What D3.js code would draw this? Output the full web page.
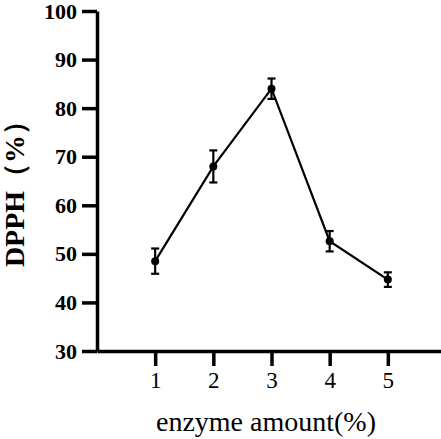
<!DOCTYPE html>
<html>
<head>
<meta charset="utf-8">
<script src="https://cdn.jsdelivr.net/npm/d3@7"></script>
<style>
  body { margin: 0; background: #fff; }
  svg { display: block; }
  text { font-family: "Liberation Serif", "DejaVu Serif", serif; }
</style>
</head>
<body>
<script>
// values
const amounts = [1, 2, 3, 4, 5];
const dpph = [48.5, 68.0, 84.0, 52.6, 44.7];
const errors = [2.6, 3.3, 2.1, 2.1, 1.5];
const yTicks = [30, 40, 50, 60, 70, 80, 90, 100];

const data = amounts.map((a, i) => ({x: a, y: dpph[i], e: errors[i]}));

const serif = "'Liberation Serif', 'DejaVu Serif', serif";
const outerWidth = 441, outerHeight = 439;
const margin = {top: 11, left: 97};
const width = 349, height = 340;

const x = d3.scaleLinear().domain([0, 6]).range([0, width]);
const y = d3.scaleLinear().domain([30, 100]).range([height, 0]);

const svg = d3.select("body").append("svg")
    .attr("width", outerWidth)
    .attr("height", outerHeight);

const g = svg.append("g")
    .attr("transform", `translate(${margin.left},${margin.top})`);

// axes
const yAxis = g.append("g")
    .call(d3.axisLeft(y).tickValues(yTicks).tickFormat(d3.format("d"))
        .tickSize(15).tickPadding(5).tickSizeOuter(0));
const xAxis = g.append("g")
    .attr("transform", `translate(0,${height})`)
    .call(d3.axisBottom(x).tickValues(amounts).tickFormat(d3.format("d"))
        .tickSize(15).tickPadding(6).tickSizeOuter(0));

[xAxis, yAxis].forEach(ax => {
    ax.attr("font-family", serif);
    ax.select(".domain").attr("stroke", "#000").attr("stroke-width", 3.5);
    ax.selectAll(".tick line").attr("stroke", "#000").attr("stroke-width", 3.5);
    ax.selectAll(".tick text").attr("fill", "#000");
});
yAxis.attr("font-size", 22).attr("font-weight", "bold");
xAxis.attr("font-size", 23);

// line
const line = d3.line().x(d => x(d.x)).y(d => y(d.y));
g.append("path")
    .datum(data)
    .attr("fill", "none")
    .attr("stroke", "#000")
    .attr("stroke-width", 2.2)
    .attr("d", line);

// error bars
const eb = g.append("g").selectAll("g").data(data).join("g")
    .attr("stroke", "#000").attr("stroke-width", 2.2);
eb.append("line")
    .attr("x1", d => x(d.x)).attr("x2", d => x(d.x))
    .attr("y1", d => y(d.y + d.e)).attr("y2", d => y(d.y - d.e));
eb.append("line")
    .attr("x1", d => x(d.x) - 4).attr("x2", d => x(d.x) + 4)
    .attr("y1", d => y(d.y + d.e)).attr("y2", d => y(d.y + d.e));
eb.append("line")
    .attr("x1", d => x(d.x) - 4).attr("x2", d => x(d.x) + 4)
    .attr("y1", d => y(d.y - d.e)).attr("y2", d => y(d.y - d.e));

// points
g.append("g").selectAll("circle").data(data).join("circle")
    .attr("cx", d => x(d.x))
    .attr("cy", d => y(d.y))
    .attr("r", 4)
    .attr("fill", "#000");

// axis titles
svg.append("text")
    .attr("x", 266)
    .attr("y", 431)
    .attr("text-anchor", "middle")
    .attr("font-family", serif)
    .attr("font-size", 28)
    .text("enzyme amount(%)");

svg.append("text")
    .attr("transform", "translate(24,187) rotate(-90)")
    .attr("text-anchor", "middle")
    .attr("font-family", serif)
    .attr("font-size", 28)
    .attr("font-weight", "bold")
    .text("DPPH（%）");
</script>
</body>
</html>
